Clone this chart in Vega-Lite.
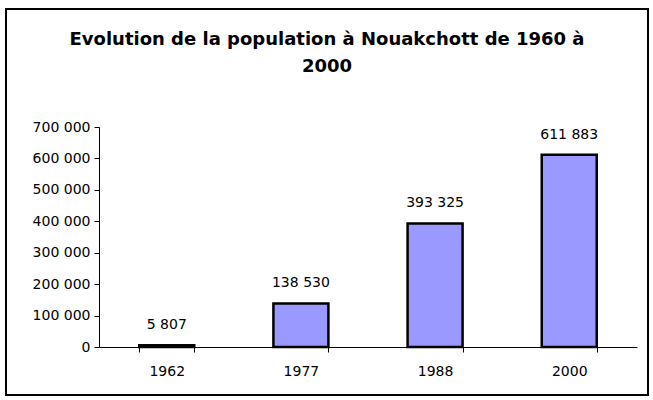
{
  "$schema": "https://vega.github.io/schema/vega-lite/v6.json",
  "autosize": "none",
  "padding": {"left": 6, "top": 9, "right": 5, "bottom": 5},
  "width": 642,
  "height": 386,
  "background": "white",
  "title": {
    "text": ["Evolution de la population à Nouakchott de 1960 à", "2000"],
    "frame": "group",
    "anchor": "middle",
    "orient": "top",
    "baseline": "top",
    "offset": -67,
    "lineHeight": 27,
    "font": "DejaVu Sans",
    "fontSize": 18,
    "fontWeight": "bold",
    "color": "black"
  },
  "config": {
    "locale": {"number": {"decimal": ",", "thousands": " ", "grouping": [3], "currency": ["", ""]}},
    "view": {"stroke": "black", "strokeWidth": 2},
    "font": "DejaVu Sans"
  },
  "data": {
    "values": [
      {"annee": "1962", "population": 5807},
      {"annee": "1977", "population": 138530},
      {"annee": "1988", "population": 393325},
      {"annee": "2000", "population": 611883}
    ]
  },
  "encoding": {
    "x": {
      "field": "annee", "type": "ordinal",
      "scale": {"range": [93, 631], "paddingInner": 0.59, "paddingOuter": 0.3},
      "axis": {
        "title": null, "offset": -48, "labelAngle": 0,
        "tickBand": "extent", "domainColor": "black", "tickColor": "black",
        "tickSize": 5, "labelPadding": 12, "labelFontSize": 14, "labelColor": "black",
        "labelFont": "DejaVu Sans"
      }
    },
    "y": {
      "field": "population", "type": "quantitative",
      "scale": {"domain": [0, 700000], "range": [338, 118], "nice": false},
      "axis": {
        "title": null, "offset": -93, "values": [0, 100000, 200000, 300000, 400000, 500000, 600000, 700000],
        "format": ",d", "grid": false, "domainColor": "black", "tickColor": "black",
        "tickSize": 5, "labelPadding": 4, "labelFontSize": 14, "labelColor": "black",
        "labelFont": "DejaVu Sans"
      }
    }
  },
  "layer": [
    {"mark": {"type": "bar", "fill": "#9999FF", "stroke": "black", "strokeWidth": 2.5}},
    {
      "mark": {"type": "text", "baseline": "middle", "dy": -20, "fontSize": 14, "font": "DejaVu Sans", "color": "black"},
      "encoding": {"text": {"field": "population", "type": "quantitative", "format": ",d"}}
    }
  ]
}
